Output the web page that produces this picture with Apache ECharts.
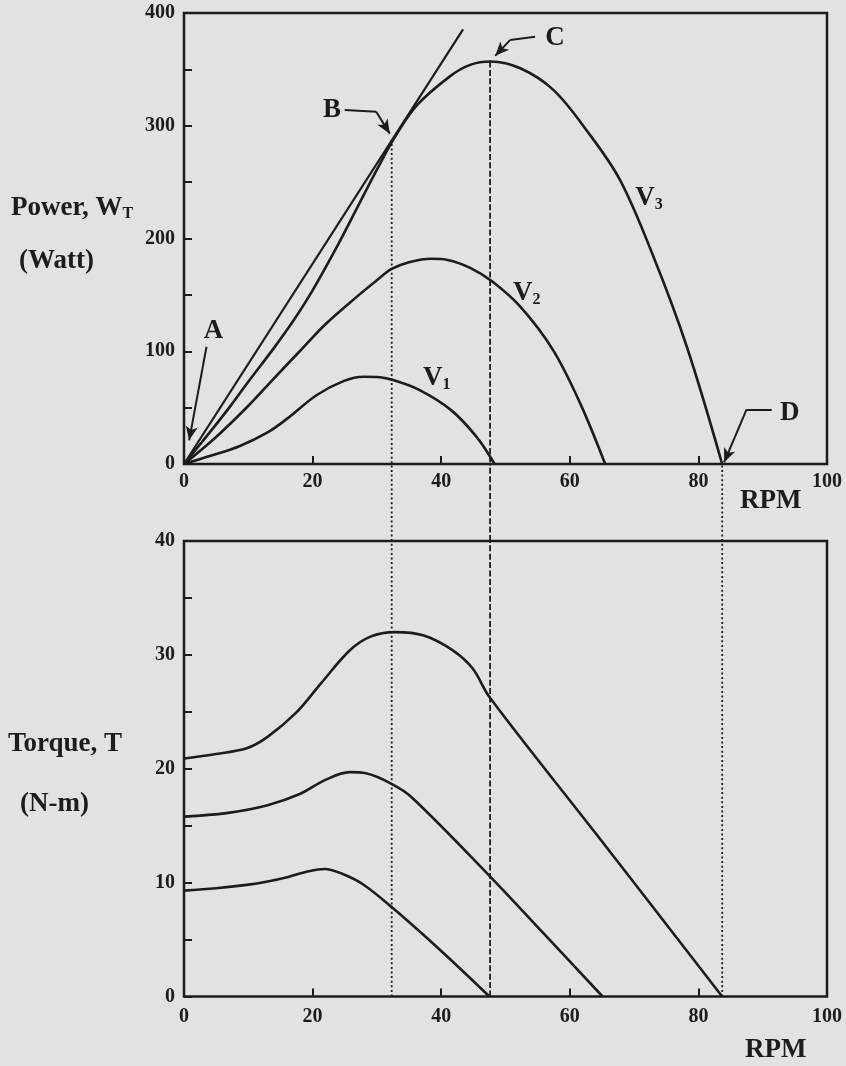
<!DOCTYPE html>
<html><head><meta charset="utf-8">
<script src="https://cdn.jsdelivr.net/npm/echarts@6/dist/echarts.min.js"></script>
<style>html,body{margin:0;padding:0;background:#e2e2e2;}#c{width:846px;height:1066px;}</style>
</head><body><div id="c"></div>
<script>
// ---------- data ----------
const rpmTicks = [0, 20, 40, 60, 80, 100];
const powerTicks = [0, 100, 200, 300, 400];
const torqueTicks = [0, 10, 20, 30, 40];

const powerV1 = [[0,0],[4,7],[8.7,16],[13,28],[16,40],[20.6,61],[24.8,73.5],[27.9,77.4],[30.5,77],[32.5,74.5],[36.5,66],[41.5,48],[45.5,24],[48.3,0]];
const powerV2 = [[0,0],[5,24],[9.9,51],[14,76],[18,100],[22,124],[26.8,148],[30,163],[32.3,173],[35,179],[38.5,182],[41,181],[44.5,174],[47.9,162],[52.3,139.5],[57.4,101],[61.6,54],[65.5,0]];
const powerV3 = [[0,0],[4,28],[7.3,52],[10,73],[14,103],[17,127],[20,154],[24,195],[27,228],[30,261],[32.7,289],[36.2,318],[41.4,344],[44.5,354],[47.7,357],[52.3,351],[57.4,332],[62.6,296],[67.8,252],[73,184],[78.2,104],[83.7,0]];
const tangentLine = [[0,0],[43.4,385.5]];

const torqueV1 = [[0,9.3],[5,9.5],[9.75,9.8],[13,10.1],[16.2,10.5],[19.4,11.0],[21.9,11.2],[24.5,10.8],[27.7,9.9],[32.2,7.9],[40,4.0],[47.5,0]];
const torqueV2 = [[0,15.8],[6.6,16.1],[13,16.8],[18.1,17.8],[21.9,19.0],[25.8,19.7],[28.3,19.6],[32.2,18.7],[35.4,17.5],[47.5,10.6],[56,5.5],[65.1,0]];
const torqueV3 = [[0,20.9],[5,21.3],[9.75,21.8],[13,22.8],[17.4,24.9],[21.3,27.5],[25.8,30.4],[29,31.6],[32.8,32.0],[37.3,31.7],[41.8,30.4],[44.9,28.8],[47.5,26.3],[64.2,14.2],[83.7,0]];

// reference RPM lines (B, C, D) and the power where each starts in the upper plot
const refRpm = [32.3, 47.6, 83.7];
const refStartPower = [288, 357, 0];

// ---------- styling ----------
const ink = '#1c1c1c';
const serif = '"Liberation Serif","Times New Roman",serif';
const refType = [[2,2.6],[6,2.4],[2,2.6]];

const curveStyle = {color: ink, width: 2.6};
function curve(name, data, grid) {
  return {name, type:'line', data, xAxisIndex:grid, yAxisIndex:grid, showSymbol:false, symbol:'none',
    smooth:0.35, lineStyle:curveStyle, silent:true, z:3};
}
function refSeg(i, grid, y0, y1) {
  return {type:'line', xAxisIndex:grid, yAxisIndex:grid, symbol:'none', silent:true, z:2,
    data:[[refRpm[i], y0],[refRpm[i], y1]],
    lineStyle:{color:ink, width:1.8, type:refType[i]}};
}
const tickLbl = {fontFamily:serif, fontWeight:'bold', fontSize:20, color:ink};

function xAx(grid, margin) {
  return {type:'value', gridIndex:grid, min:0, max:100, interval:20,
    axisLine:{show:false}, splitLine:{show:false},
    axisTick:{show:true, inside:true, length:8, lineStyle:{color:ink, width:2}},
    axisLabel:{show:true, margin, ...tickLbl, formatter: v => rpmTicks.includes(v) ? String(v) : ''}};
}
function yAx(grid, max, interval, labels) {
  return {type:'value', gridIndex:grid, min:0, max, interval,
    axisLine:{show:false}, splitLine:{show:false},
    axisTick:{show:true, inside:true, length:8, lineStyle:{color:ink, width:2}},
    axisLabel:{show:true, margin:9, ...tickLbl, formatter: v => labels.includes(v) ? String(v) : ''}};
}

const titleBase = {fontFamily:serif, fontWeight:'bold', fontSize:27, color:ink};
const sub = {fontFamily:serif, fontWeight:'bold', fontSize:16, color:ink, verticalAlign:'bottom', lineHeight:14};

const annotLabels = [
  {value:[4.6,118], name:'A'},
  {value:[23,314], name:'B'},
  {value:[57.7,378], name:'C'},
  {value:[94.2,45], name:'D'},
  {value:[39.3,76], name:'{v|V}{s|1}'},
  {value:[53.3,152], name:'{v|V}{s|2}'},
  {value:[72.3,236], name:'{v|V}{s|3}'}
];

const arrows = [
  [{coord:[3.5,104]},{coord:[0.8,21]}],
  [{coord:[25.0,314],symbol:'none'},{coord:[29.9,312.5],symbol:'none'}],
  [{coord:[29.9,312.5]},{coord:[32.0,293]}],
  [{coord:[54.6,379],symbol:'none'},{coord:[50.7,376],symbol:'none'}],
  [{coord:[50.7,376]},{coord:[48.4,362]}],
  [{coord:[91.4,48.5],symbol:'none'},{coord:[87.5,48.5],symbol:'none'}],
  [{coord:[87.5,48.5]},{coord:[84.0,1.5]}]
];

const lblText = {fontFamily:serif, fontWeight:'bold', fontSize:27, color:ink, textBorderWidth:0, textShadowBlur:0};

const chart = echarts.init(document.getElementById('c'), null, {renderer:'canvas'});
chart.setOption({
  animation:false,
  backgroundColor:'#e2e2e2',
  title:[
    {text:'{a|Power, W}{s|T}', left:11, top:195, padding:0, textStyle:{...titleBase, rich:{a:{...titleBase}, s:sub}}},
    {text:'(Watt)', left:19, top:248, padding:0, textStyle:titleBase},
    {text:'RPM', left:740, top:488, padding:0, textStyle:titleBase},
    {text:'Torque, T', left:8, top:731, padding:0, textStyle:titleBase},
    {text:'(N-m)', left:20, top:791, padding:0, textStyle:titleBase},
    {text:'RPM', left:745, top:1037, padding:0, textStyle:titleBase}
  ],
  grid:[
    {left:184, right:19, top:13, height:451, show:true, borderColor:ink, borderWidth:2.5, backgroundColor:'transparent', containLabel:false, outerBoundsMode:'none'},
    {left:184, right:19, top:464, height:77, show:false, containLabel:false, outerBoundsMode:'none'},
    {left:184, right:19, top:541, height:455.5, show:true, borderColor:ink, borderWidth:2.5, backgroundColor:'transparent', containLabel:false, outerBoundsMode:'none'}
  ],
  xAxis:[
    xAx(0, 8),
    {type:'value', gridIndex:1, min:0, max:100, show:false},
    xAx(2, 10)
  ],
  yAxis:[
    yAx(0, 400, 50, powerTicks),
    {type:'value', gridIndex:1, min:0, max:1, show:false},
    yAx(2, 40, 5, torqueTicks)
  ],
  series:[
    curve('V1 power', powerV1, 0),
    curve('V2 power', powerV2, 0),
    curve('V3 power', powerV3, 0),
    {name:'tangent', type:'line', data:tangentLine, xAxisIndex:0, yAxisIndex:0, symbol:'none', silent:true,
      lineStyle:{color:ink, width:2.2}, z:3,
      markLine:{silent:true, symbol:['none','arrow'], symbolSize:[9,14], animation:false,
        label:{show:false}, lineStyle:{color:ink, width:2, type:'solid'}, emphasis:{disabled:true},
        data:arrows}},
    {name:'labels', type:'scatter', xAxisIndex:0, yAxisIndex:0, symbolSize:0, silent:true, z:5,
      itemStyle:{color:ink, opacity:1},
      data:annotLabels,
      label:{show:true, position:'inside', formatter:'{b}', ...lblText,
        rich:{v:{...lblText, lineHeight:30}, s:{...lblText, fontSize:16, lineHeight:16, verticalAlign:'bottom'}}}},
    refSeg(0, 0, refStartPower[0], 0),
    refSeg(1, 0, refStartPower[1], 0),
    refSeg(0, 1, 0, 1), refSeg(1, 1, 0, 1), refSeg(2, 1, 0, 1),
    refSeg(0, 2, 0, 40), refSeg(1, 2, 0, 40), refSeg(2, 2, 0, 40),
    curve('V1 torque', torqueV1, 2),
    curve('V2 torque', torqueV2, 2),
    curve('V3 torque', torqueV3, 2)
  ]
});
</script>
</body></html>
